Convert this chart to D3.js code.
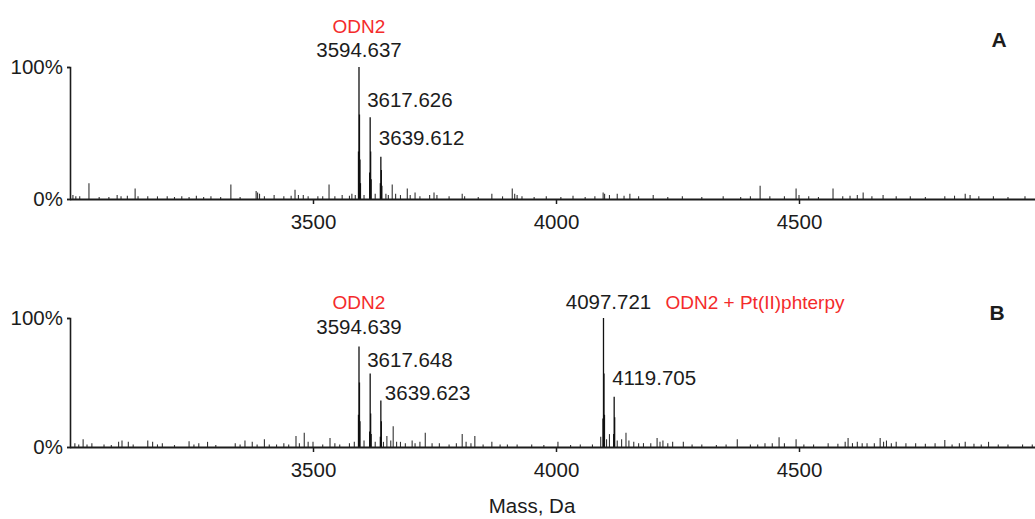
<!DOCTYPE html>
<html>
<head>
<meta charset="utf-8">
<script src="https://cdn.jsdelivr.net/npm/d3@7"></script>
<style>
  body { margin: 0; background: #fff; }
  svg { display: block; font-family: "Liberation Sans", Arial, sans-serif; }
</style>
</head>
<body>
<div id="spectra"></div>
<script>
// peak list panel A: [mass (Da), relative intensity (%)]
var peaksA = [
  [3593.6, 36], [3594.637, 100], [3595.6, 64], [3596.6, 30], [3597.6, 12],
  [3616.6, 20], [3617.626, 62], [3618.6, 36], [3619.6, 15],
  [3638.6, 12], [3639.612, 32], [3640.6, 22], [3641.6, 10]
];
var noiseA = [
  [3006, 3], [3012, 2], [3020, 2], [3039, 12], [3060, 1.5], [3080, 1.5], [3097, 3], [3105, 2],
  [3118, 2.5], [3134, 8], [3140, 2], [3160, 2], [3180, 2], [3200, 2], [3215, 1.5], [3230, 2],
  [3245, 1.5], [3260, 2.5], [3275, 1.5], [3290, 2], [3310, 1.5], [3331, 11], [3350, 1.5],
  [3383, 6], [3386, 5], [3390, 4], [3400, 2], [3420, 3], [3440, 2], [3455, 2.5], [3463, 7],
  [3470, 3], [3480, 3], [3490, 2], [3510, 2], [3520, 2], [3533, 11], [3545, 2], [3560, 3],
  [3575, 2.5], [3580, 4], [3587, 3], [3605, 3], [3628, 4], [3650, 4], [3655, 3],
  [3663, 11], [3670, 4], [3680, 3], [3694, 8], [3700, 3], [3710, 5], [3720, 2], [3740, 3],
  [3749, 5], [3755, 3], [3780, 2], [3807, 4], [3812, 2], [3840, 1.5], [3868, 4], [3890, 2],
  [3910, 8], [3915, 4], [3920, 3], [3930, 2], [3955, 1.5], [3980, 2], [4010, 1.5], [4035, 2.5],
  [4060, 1.5], [4080, 2], [4097, 5], [4100, 4], [4110, 3], [4126, 4], [4140, 2.5], [4152, 4],
  [4170, 2], [4200, 3], [4230, 1.5], [4260, 2], [4300, 1.5], [4344, 2], [4380, 1.5], [4400, 2],
  [4420, 10], [4440, 2], [4470, 2], [4494, 8], [4500, 3], [4520, 2], [4540, 1.5], [4570, 8],
  [4590, 2], [4605, 2.5], [4620, 3], [4632, 5], [4650, 2], [4673, 3], [4700, 2], [4729, 2],
  [4760, 1.5], [4800, 2], [4820, 2.5], [4842, 4], [4852, 3], [4870, 2], [4900, 2], [4930, 1.5],
  [4965, 2], [4990, 2]
];
var labelsA = [3594.637, 3617.626, 3639.612];

// peak list panel B
var peaksB = [
  [3593.6, 25], [3594.639, 78], [3595.6, 50], [3596.6, 20],
  [3616.6, 12], [3617.648, 57], [3618.6, 26], [3619.6, 10],
  [3638.6, 8], [3639.623, 36], [3640.6, 20],
  [4096.7, 22], [4097.721, 100], [4098.7, 57], [4099.7, 25],
  [4118.7, 10], [4119.705, 39], [4120.7, 23]
];
var noiseB = [
  [3010, 3], [3018, 2], [3027, 6], [3035, 2], [3045, 3], [3070, 2], [3085, 1.5], [3100, 4],
  [3107, 5], [3120, 4], [3130, 2], [3160, 5], [3170, 4], [3180, 2], [3190, 3], [3215, 1.5],
  [3245, 4.5], [3255, 2], [3265, 3], [3283, 4], [3300, 1.5], [3340, 3], [3350, 2], [3360, 5],
  [3375, 4], [3385, 2], [3400, 6], [3410, 2], [3425, 2], [3440, 3], [3450, 2], [3465, 8.5],
  [3472, 3], [3482, 11], [3490, 4], [3500, 4], [3520, 2], [3535, 7], [3545, 3], [3555, 2],
  [3575, 3], [3585, 4], [3605, 5], [3628, 4], [3645, 4], [3652, 8.5], [3660, 5], [3665, 16],
  [3672, 4], [3680, 4], [3690, 3], [3704, 5], [3710, 3], [3720, 4], [3731, 11], [3745, 3],
  [3760, 3], [3780, 2], [3795, 3], [3807, 10], [3815, 4], [3825, 3], [3833, 8.5], [3850, 2],
  [3868, 4], [3885, 2], [3900, 2], [3920, 2], [3950, 2], [3975, 1.5], [4004, 4], [4030, 1.5],
  [4050, 2], [4075, 2], [4092, 8], [4104, 6], [4110, 10], [4126, 5], [4135, 6], [4144, 11],
  [4150, 5], [4160, 4], [4170, 3], [4180, 3], [4195, 3], [4208, 7], [4214, 4], [4220, 5],
  [4230, 3], [4240, 4], [4262, 4], [4280, 2], [4300, 2], [4330, 1.5], [4350, 2], [4373, 6],
  [4400, 2], [4415, 2], [4430, 3], [4445, 3], [4459, 7.5], [4470, 3], [4494, 6], [4510, 2],
  [4530, 2], [4560, 3], [4580, 2.5], [4595, 4], [4601, 7], [4610, 3], [4620, 4], [4630, 3],
  [4640, 3], [4655, 3], [4667, 7], [4674, 4], [4680, 5], [4690, 3], [4700, 4], [4720, 3],
  [4740, 3], [4760, 2.5], [4780, 3], [4800, 5.5], [4815, 2], [4830, 3], [4842, 4], [4860, 2.5],
  [4875, 2], [4890, 4], [4910, 2], [4930, 2], [4960, 2], [4980, 2]
];
var labelsB = [3594.639, 3617.648, 3639.623, 4097.721, 4119.705];

var massTicks = [3500, 4000, 4500];
var pctTicks = [0, 100];
var speciesNames = ["ODN2", "ODN2 + Pt(II)phterpy"];
var panelNames = ["A", "B"];
var xTitle = "Mass, Da";

var width = 1035, height = 519;
var ink = "#1c1c1c", red = "#f42b2b";

var svg = d3.select("#spectra").append("svg")
  .attr("width", width)
  .attr("height", height);

var x = d3.scaleLinear().domain([3000, 5000]).range([70, 1042]);

function drawPanel(top, bottom, peaks, noise) {
  var y = d3.scaleLinear().domain([0, 100]).range([bottom, top]);
  var g = svg.append("g");

  var xAxis = d3.axisBottom(x).tickValues(massTicks).tickSize(5).tickPadding(10)
    .tickFormat(d3.format("d"));
  g.append("g")
    .attr("transform", "translate(0," + bottom + ")")
    .call(xAxis)
    .call(function (a) {
      a.select(".domain").remove();
      a.selectAll(".tick line").attr("stroke", ink).attr("stroke-width", 1.5);
      a.selectAll(".tick text").attr("fill", ink).attr("font-size", "20.5px")
        .attr("font-family", "Liberation Sans, Arial, sans-serif");
    });

  var yAxis = d3.axisLeft(y).tickValues(pctTicks).tickSize(3).tickPadding(4)
    .tickFormat(function (d) { return d + "%"; });
  g.append("g")
    .attr("transform", "translate(70,0)")
    .call(yAxis)
    .call(function (a) {
      a.select(".domain").attr("stroke", ink).attr("stroke-width", 1.6);
      a.selectAll(".tick line").attr("stroke", ink).attr("stroke-width", 1.5);
      a.selectAll(".tick text").attr("fill", ink).attr("font-size", "20.5px")
        .attr("font-family", "Liberation Sans, Arial, sans-serif");
    });

  // noise sticks, then the main isotope clusters
  g.append("g").selectAll("line")
    .data(noise)
    .enter().append("line")
    .attr("x1", function (d) { return x(d[0]); })
    .attr("x2", function (d) { return x(d[0]); })
    .attr("y1", y(0))
    .attr("y2", function (d) { return y(d[1]); })
    .attr("stroke", "#333")
    .attr("stroke-width", 1.1);

  g.append("g").selectAll("line")
    .data(peaks)
    .enter().append("line")
    .attr("x1", function (d) { return x(d[0]); })
    .attr("x2", function (d) { return x(d[0]); })
    .attr("y1", y(0))
    .attr("y2", function (d) { return y(d[1]); })
    .attr("stroke", "#111")
    .attr("stroke-width", 1.3);

  // baseline
  g.append("line")
    .attr("x1", x(3000)).attr("x2", x(5000))
    .attr("y1", y(0) + 0.5).attr("y2", y(0) + 0.5)
    .attr("stroke", ink)
    .attr("stroke-width", 2.2);

  return { g: g, y: y };
}

function peakHeight(peaks, m) {
  return peaks.filter(function (d) { return d[0] === m; })[0][1];
}

function label(g, px, py, txt, anchor, color, size, weight) {
  return g.append("text")
    .attr("x", px).attr("y", py)
    .attr("text-anchor", anchor || "start")
    .attr("fill", color || ink)
    .attr("font-size", (size || 20.5) + "px")
    .attr("font-weight", weight || "normal")
    .text(txt);
}

// panel A
var pA = drawPanel(67, 199, peaksA, noiseA);
var offA = [[0, -10, "middle"], [-3, -10, "start"], [-2, -12, "start"]];
labelsA.forEach(function (m, i) {
  label(pA.g, x(m) + offA[i][0], pA.y(peakHeight(peaksA, m)) + offA[i][1], m.toFixed(3), offA[i][2]);
});
label(pA.g, x(labelsA[0]), pA.y(100) - 34, speciesNames[0], "middle", red, 19);
label(pA.g, 999, 47, panelNames[0], "middle", ink, 21, "bold");

// panel B
var pB = drawPanel(318, 447, peaksB, noiseB);
var offB = [[0, -12, "middle"], [-3, -6, "start"], [4, -1, "start"], [5, -9, "middle"], [-2, -12, "start"]];
labelsB.forEach(function (m, i) {
  label(pB.g, x(m) + offB[i][0], pB.y(peakHeight(peaksB, m)) + offB[i][1], m.toFixed(3), offB[i][2]);
});
label(pB.g, x(labelsB[0]), pB.y(100) - 9, speciesNames[0], "middle", red, 19);
label(pB.g, x(labelsB[3]) + 62, pB.y(100) - 9, speciesNames[1], "start", red, 19);
label(pB.g, 997, 320, panelNames[1], "middle", ink, 21, "bold");

// axis title
label(svg, 532, 513, xTitle, "middle", ink, 20.5);
</script>
</body>
</html>
